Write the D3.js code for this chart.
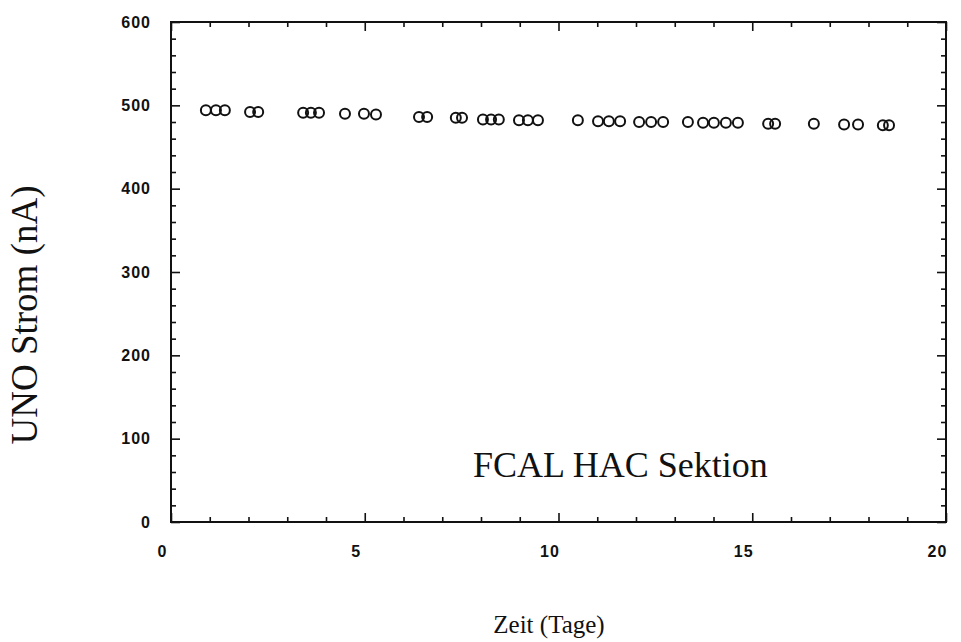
<!DOCTYPE html>
<html>
<head>
<meta charset="utf-8">
<script src="https://cdn.jsdelivr.net/npm/d3@7"></script>
<style>
  body { margin: 0; background: #fff; }
  .tick text { font-family: "Liberation Sans", Arial, sans-serif; font-weight: bold; font-size: 16px; letter-spacing: 1px; fill: #111; }
  .ttl { font-family: "Liberation Serif", "Times New Roman", serif; fill: #111; }
</style>
</head>
<body>
<svg id="chart"></svg>
<script>
// Zeit in Tagen, Strom in nA
var tage = [0.90, 1.16, 1.39, 2.04, 2.25, 3.41, 3.61, 3.82, 4.49, 4.98, 5.29,
            6.40, 6.61, 7.35, 7.51, 8.05, 8.26, 8.46, 8.98, 9.21, 9.47, 10.50,
            11.02, 11.30, 11.59, 12.08, 12.39, 12.70, 13.34, 13.73, 14.01, 14.32, 14.63,
            15.41, 15.59, 16.59, 17.37, 17.73, 18.37, 18.53];
var strom = [494, 494, 494, 492, 492, 491, 491, 491, 490, 490, 489,
             486, 486, 485, 485, 483, 483, 483, 482, 482, 482, 482,
             481, 481, 481, 480, 480, 480, 480, 479, 479, 479, 479,
             478, 478, 478, 477, 477, 476, 476];
var xTicks = [0, 5, 10, 15, 20];
var yTicks = [0, 100, 200, 300, 400, 500, 600];

var W = 961, H = 642;
var svg = d3.select("#chart").attr("width", W).attr("height", H);

var x = d3.scaleLinear().domain([0, 20]).range([171, 946]);
var y = d3.scaleLinear().domain([0, 600]).range([522, 22]);

var xMinor = d3.range(0, 21, 1).filter(function(d) { return d % 5 != 0; });
var yMinor = d3.range(0, 601, 20).filter(function(d) { return d % 100 != 0; });

function strip(g) { g.select(".domain").remove(); g.selectAll("line").attr("stroke", "#111").attr("stroke-width", 1.6); }

// bottom
svg.append("g").attr("transform", "translate(0," + y(0) + ")")
  .call(d3.axisBottom(x).tickValues(xTicks).tickSize(-9).tickPadding(24))
  .call(strip)
  .selectAll("text").attr("dx", -9);
svg.append("g").attr("transform", "translate(0," + y(0) + ")")
  .call(d3.axisBottom(x).tickValues(xMinor).tickSize(-5).tickFormat(""))
  .call(strip);
// top
svg.append("g").attr("transform", "translate(0," + y(600) + ")")
  .call(d3.axisTop(x).tickValues(xTicks).tickSize(-9).tickFormat(""))
  .call(strip);
svg.append("g").attr("transform", "translate(0," + y(600) + ")")
  .call(d3.axisTop(x).tickValues(xMinor).tickSize(-5).tickFormat(""))
  .call(strip);
// left
svg.append("g").attr("transform", "translate(" + x(0) + ",0)")
  .call(d3.axisLeft(y).tickValues(yTicks).tickSize(-9).tickPadding(20))
  .call(strip);
svg.append("g").attr("transform", "translate(" + x(0) + ",0)")
  .call(d3.axisLeft(y).tickValues(yMinor).tickSize(-5).tickFormat(""))
  .call(strip);
// right
svg.append("g").attr("transform", "translate(" + x(20) + ",0)")
  .call(d3.axisRight(y).tickValues(yTicks).tickSize(-9).tickFormat(""))
  .call(strip);
svg.append("g").attr("transform", "translate(" + x(20) + ",0)")
  .call(d3.axisRight(y).tickValues(yMinor).tickSize(-5).tickFormat(""))
  .call(strip);

// frame
svg.append("rect")
  .attr("x", x(0)).attr("y", y(600))
  .attr("width", x(20) - x(0)).attr("height", y(0) - y(600))
  .attr("fill", "none").attr("stroke", "#111").attr("stroke-width", 2);

// points
svg.selectAll("circle.pt")
  .data(tage.map(function(t, i) { return {t: t, s: strom[i]}; }))
  .enter().append("circle")
    .attr("class", "pt")
    .attr("cx", function(d) { return x(d.t); })
    .attr("cy", function(d) { return y(d.s); })
    .attr("r", 5)
    .attr("fill", "none")
    .attr("stroke", "#111")
    .attr("stroke-width", 2);

svg.append("text").attr("class", "ttl")
  .attr("x", 473).attr("y", 477)
  .style("font-size", "36px")
  .text("FCAL HAC Sektion");

svg.append("text").attr("class", "ttl")
  .attr("x", 549).attr("y", 633)
  .attr("text-anchor", "middle")
  .style("font-size", "25px")
  .text("Zeit (Tage)");

svg.append("text").attr("class", "ttl")
  .attr("transform", "translate(37,315) rotate(-90)")
  .attr("text-anchor", "middle")
  .style("font-size", "37px")
  .text("UNO Strom (nA)");
</script>
</body>
</html>
